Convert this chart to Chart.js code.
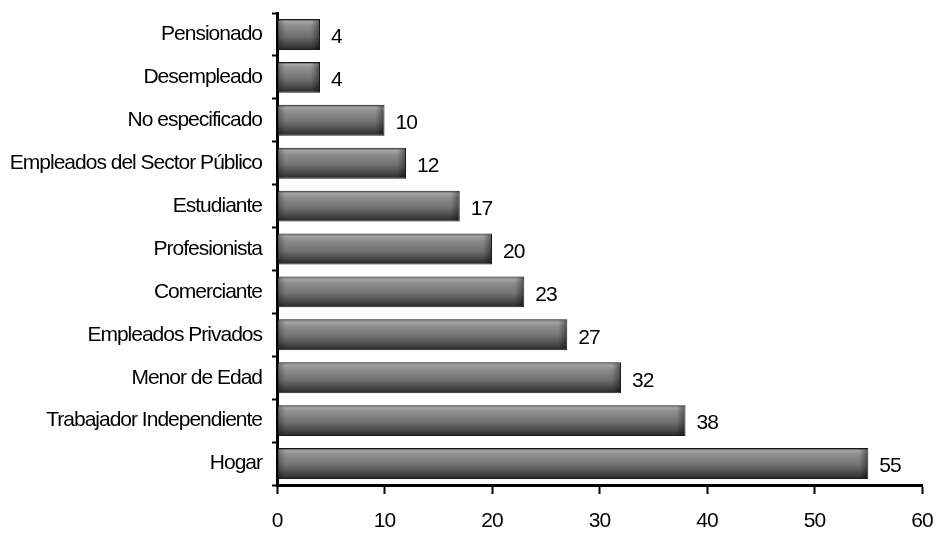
<!DOCTYPE html>
<html>
<head>
<meta charset="utf-8">
<script src="https://cdn.jsdelivr.net/npm/chart.js@4/dist/chart.umd.min.js"></script>
<style>
  html, body { margin: 0; padding: 0; background: #fff; }
  #wrap { width: 936px; height: 533px; position: relative; }
</style>
</head>
<body>
<div id="wrap"><canvas id="barChart"></canvas></div>
<script>
var categorias = ['Pensionado', 'Desempleado', 'No especificado', 'Empleados del Sector Público',
	'Estudiante', 'Profesionista', 'Comerciante', 'Empleados Privados', 'Menor de Edad',
	'Trabajador Independiente', 'Hogar'];
var valores = [4, 4, 10, 12, 17, 20, 23, 27, 32, 38, 55];
var ticksX = [0, 10, 20, 30, 40, 50, 60];

(function() {
	"use strict";

	var fuente = '"Liberation Sans", Arial, sans-serif';
	var tam = 21;
	var grosor = 0.72;

	// degradado vertical de cada barra (efecto cilindro)
	function relleno(context) {
		var chart = context.chart;
		var y = chart.scales.y;
		if (!chart.chartArea || !y || context.dataIndex === undefined) {
			return '#777';
		}
		var centro = y.getPixelForValue(context.dataIndex);
		var mitad = (chart.chartArea.height / categorias.length) * grosor / 2;
		var g = chart.ctx.createLinearGradient(0, centro - mitad, 0, centro + mitad);
		g.addColorStop(0, '#3c3c3c');
		g.addColorStop(0.08, '#a4a4a4');
		g.addColorStop(0.22, '#8e8e8e');
		g.addColorStop(0.55, '#717171');
		g.addColorStop(0.8, '#4a4a4a');
		g.addColorStop(1, '#262626');
		return g;
	}

	// letra un poco apretada en todos los textos
	var apretado = {
		id: 'apretado',
		beforeDraw: function(chart) { chart.ctx.letterSpacing = '-1px'; }
	};

	// sombra en los extremos y valor a la derecha de cada barra
	var etiquetas = {
		id: 'etiquetas',
		afterDatasetsDraw: function(chart) {
			var ctx = chart.ctx;
			var meta = chart.getDatasetMeta(0);
			ctx.save();
			meta.data.forEach(function(bar) {
				var top = bar.y - bar.height / 2;
				var g = ctx.createLinearGradient(bar.x - 9, 0, bar.x, 0);
				g.addColorStop(0, 'rgba(0,0,0,0)');
				g.addColorStop(1, 'rgba(0,0,0,0.45)');
				ctx.fillStyle = g;
				ctx.fillRect(bar.x - 9, top + 1, 8, bar.height - 2);
				var h = ctx.createLinearGradient(bar.base, 0, bar.base + 8, 0);
				h.addColorStop(0, 'rgba(0,0,0,0.3)');
				h.addColorStop(1, 'rgba(0,0,0,0)');
				ctx.fillStyle = h;
				ctx.fillRect(bar.base + 1, top + 1, 8, bar.height - 2);
			});
			ctx.font = tam + 'px ' + fuente;
			ctx.fillStyle = '#000';
			ctx.textAlign = 'left';
			ctx.textBaseline = 'middle';
			meta.data.forEach(function(bar, i) {
				ctx.fillText(String(valores[i]), bar.x + 11, bar.y + 3);
			});
			ctx.restore();
		}
	};

	var ctx = document.getElementById('barChart').getContext('2d');
	var myChart = new Chart(ctx, {
		type: 'bar',
		data: {
			labels: categorias,
			datasets: [{
				data: valores,
				backgroundColor: relleno,
				borderColor: '#1a1a1a',
				borderWidth: 1,
				borderSkipped: false,
				barPercentage: grosor,
				categoryPercentage: 1
			}]
		},
		options: {
			indexAxis: 'y',
			responsive: true,
			maintainAspectRatio: false,
			animation: false,
			layout: { padding: { top: 13, right: 14, left: 0, bottom: 0 } },
			plugins: {
				legend: { display: false },
				tooltip: { enabled: false }
			},
			scales: {
				x: {
					min: 0,
					max: 60,
					afterBuildTicks: function(scale) {
						scale.ticks = ticksX.map(function(v) { return { value: v }; });
					},
					afterFit: function(scale) {
						scale.height = 48;
						scale.paddingLeft = 0;
						scale.paddingRight = 0;
					},
					grid: {
						drawOnChartArea: false,
						drawTicks: true,
						tickLength: 9,
						tickWidth: 2,
						color: '#000'
					},
					border: { color: '#000', width: 3 },
					ticks: {
						color: '#000',
						padding: 15,
						font: { family: fuente, size: tam }
					}
				},
				y: {
					afterFit: function(scale) {
						scale.width = 277;
						scale.paddingTop = 0;
						scale.paddingBottom = 0;
					},
					grid: {
						offset: true,
						drawOnChartArea: false,
						drawTicks: true,
						tickLength: 5,
						tickWidth: 2,
						color: '#000'
					},
					border: { color: '#000', width: 3 },
					ticks: {
						color: '#000',
						padding: 10,
						font: { family: fuente, size: tam }
					}
				}
			}
		},
		plugins: [apretado, etiquetas]
	});
})();
</script>
</body>
</html>
